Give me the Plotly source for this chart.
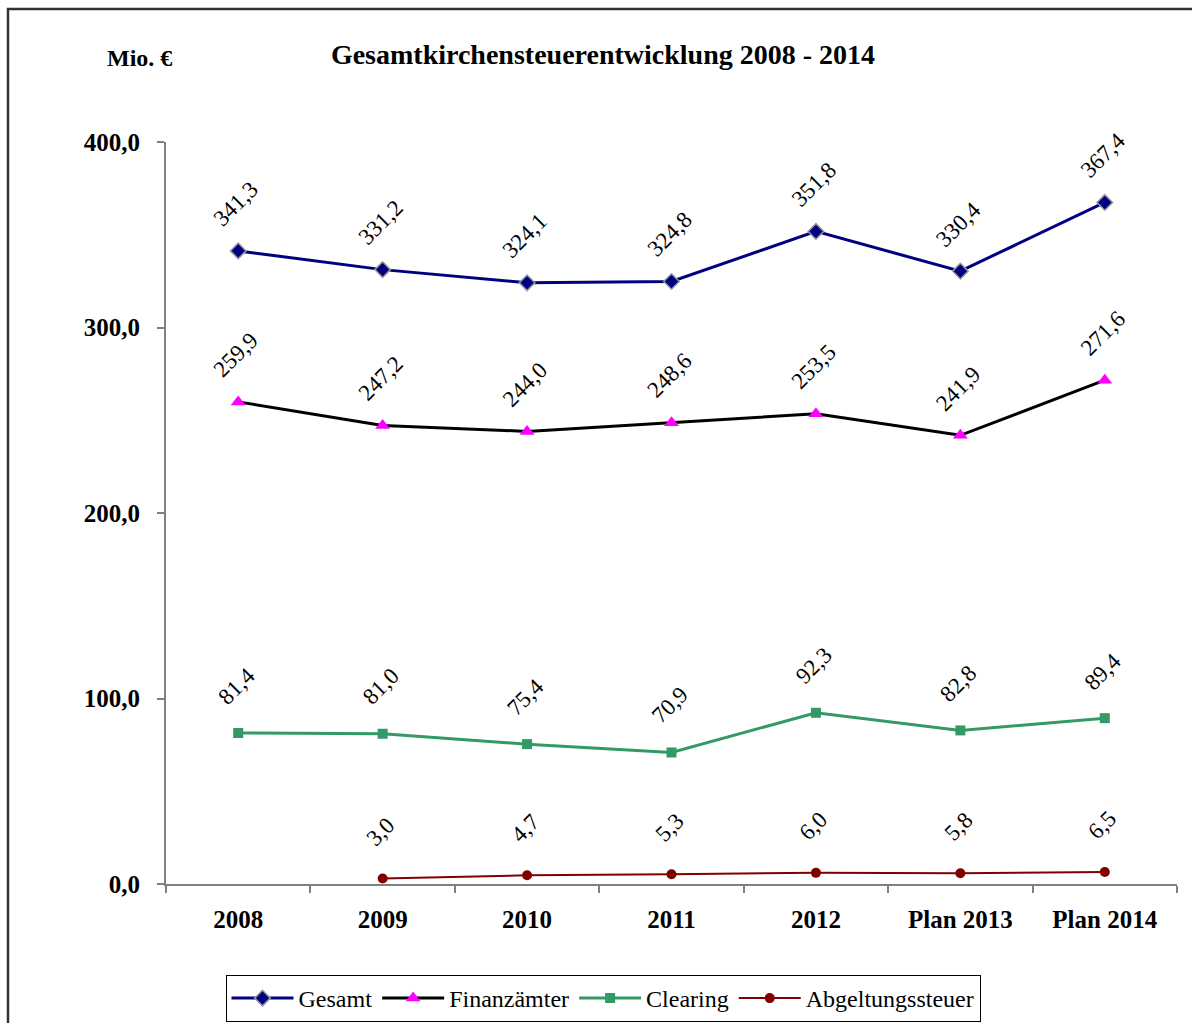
import plotly.graph_objects as go

categories = ["2008", "2009", "2010", "2011", "2012", "Plan 2013", "Plan 2014"]
gesamt = [341.3, 331.2, 324.1, 324.8, 351.8, 330.4, 367.4]
finanzaemter = [259.9, 247.2, 244.0, 248.6, 253.5, 241.9, 271.6]
clearing = [81.4, 81.0, 75.4, 70.9, 92.3, 82.8, 89.4]
abgeltung = [None, 3.0, 4.7, 5.3, 6.0, 5.8, 6.5]

FONT = "Liberation Serif"

fig = go.Figure()
fig.add_trace(go.Scatter(x=categories, y=gesamt, name="Gesamt", mode="lines+markers",
                         line=dict(color="#000080", width=3),
                         marker=dict(symbol="diamond", size=12, color="#000080",
                                     line=dict(color="#999999", width=1.5))))
fig.add_trace(go.Scatter(x=categories, y=finanzaemter, name="Finanzämter", mode="lines+markers",
                         line=dict(color="#000000", width=3),
                         marker=dict(symbol="triangle-up", size=13, color="#FF00FF")))
fig.add_trace(go.Scatter(x=categories, y=clearing, name="Clearing", mode="lines+markers",
                         line=dict(color="#339966", width=3),
                         marker=dict(symbol="square", size=10, color="#339966")))
fig.add_trace(go.Scatter(x=categories, y=abgeltung, name="Abgeltungssteuer", mode="lines+markers",
                         line=dict(color="#800000", width=2),
                         marker=dict(symbol="circle", size=10, color="#800000")))

px_w = 1192 - 166 - 15
px_h = 1023 - 142 - 139

annotations = []
for series in (gesamt, finanzaemter, clearing, abgeltung):
    for i, v in enumerate(series):
        if v is None:
            continue
        annotations.append(dict(x=i, y=v, xref="x", yref="y",
                                text=f"{v:.1f}".replace(".", ","),
                                showarrow=False, textangle=-45, yshift=47, xshift=-2,
                                font=dict(family=FONT, size=23, color="black")))

annotations.append(dict(x=(139 - 166) / px_w, y=(884 - 58) / px_h, xref="paper", yref="paper",
                        xanchor="center", yanchor="middle",
                        text="<b>Mio. €</b>", showarrow=False,
                        font=dict(family=FONT, size=24, color="black")))

fig.update_layout(
    width=1192, height=1023,
    margin=dict(l=166, r=15, t=142, b=139, autoexpand=False),
    paper_bgcolor="white", plot_bgcolor="white",
    separators=",.",
    showlegend=True,
    font=dict(family=FONT, color="black"),
    title=dict(text="<b>Gesamtkirchensteuerentwicklung 2008 - 2014</b>", x=(603 - 166) / px_w,
               xref="paper", xanchor="center",
               y=1 - 54 / 1023, yanchor="middle", font=dict(family=FONT, size=28, color="black")),
    xaxis=dict(type="category", range=[-0.5, 6.5], showgrid=False, showline=True,
               linecolor="#808080", linewidth=2, ticks="outside", tickson="boundaries",
               ticklen=7, tickcolor="#808080", tickwidth=1.5,
               tickfont=dict(family=FONT, size=25, color="black", weight="bold"),
               ticklabelstandoff=12),
    yaxis=dict(range=[0, 400], tickvals=[0, 100, 200, 300, 400], tickformat=".1f",
               showgrid=False, showline=True, linecolor="#808080", linewidth=2,
               ticks="outside", ticklen=7, tickcolor="#808080", tickwidth=1.5,
               zeroline=False, ticklabelstandoff=12,
               tickfont=dict(family=FONT, size=25, color="black", weight="bold")),
    legend=dict(orientation="h", x=(603 - 166) / px_w, xanchor="center",
                y=-(975 - 884) / px_h, yanchor="top",
                bordercolor="black", borderwidth=1, bgcolor="white",
                font=dict(family=FONT, size=24, color="black"), itemwidth=62,
                tracegroupgap=0),
    annotations=annotations,
)

fig.add_shape(type="rect", xref="paper", yref="paper",
              x0=(8 - 166) / px_w, x1=1.2, y0=-0.3, y1=(884 - 9) / px_h,
              line=dict(color="#333333", width=2.5), fillcolor="rgba(0,0,0,0)", layer="below")

fig.write_html("out.html")
